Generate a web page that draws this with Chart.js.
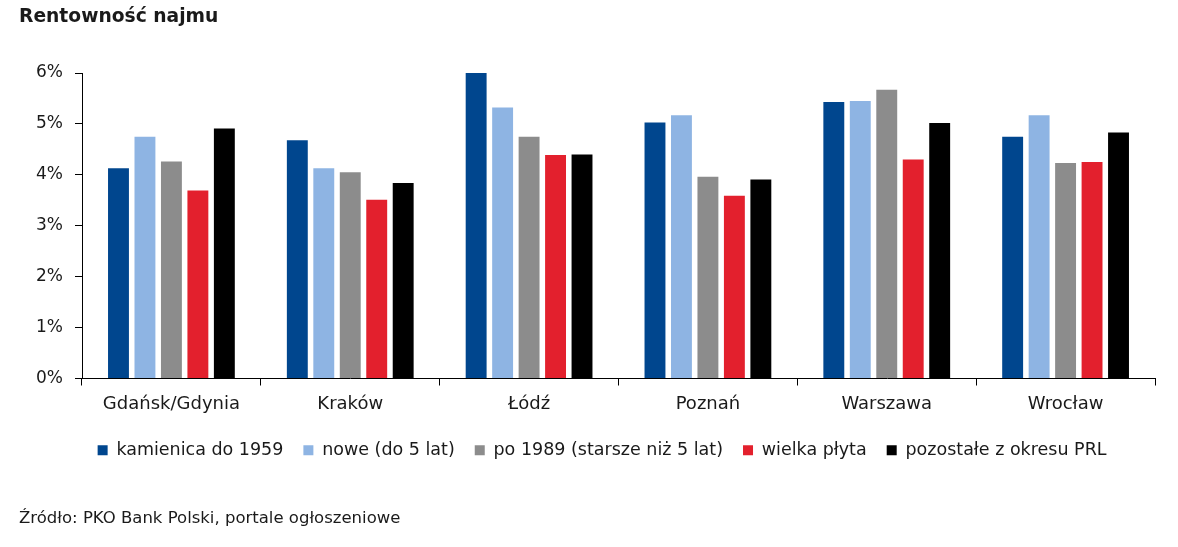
<!DOCTYPE html>
<html lang="pl">
<head>
  <meta charset="UTF-8" />
  <title>Rentowność najmu</title>
  <script src="https://cdn.jsdelivr.net/npm/chart.js"></script>
  <style>
    html, body {
      margin: 0;
      padding: 0;
      background: #ffffff;
      font-family: "DejaVu Sans", sans-serif;
      color: #1a1a1a;
    }
    .page {
      position: relative;
      width: 1178px;
      height: 547px;
      overflow: hidden;
    }
    .title {
      position: absolute;
      left: 19px;
      top: 5px;
      font-size: 18.7px;
      font-weight: bold;
    }
    .source {
      position: absolute;
      left: 19px;
      top: 508px;
      font-size: 16.5px;
    }
    .chart-box {
      position: absolute;
      left: 0;
      top: 0;
      width: 1178px;
      height: 547px;
    }
  </style>
</head>
<body>
  <div class="page">
    <div class="chart-box"><canvas id="rentChart"></canvas></div>
    <div class="title">Rentowność najmu</div>
    <div class="source">Źródło: PKO Bank Polski, portale ogłoszeniowe</div>
  </div>

  <script>
    const cities = ["Gdańsk/Gdynia", "Kraków", "Łódź", "Poznań", "Warszawa", "Wrocław"];
    const seriesNames = [
      "kamienica do 1959",
      "nowe (do 5 lat)",
      "po 1989 (starsze niż 5 lat)",
      "wielka płyta",
      "pozostałe z okresu PRL"
    ];
    const kamienica = [4.13, 4.68, 6.00, 5.03, 5.43, 4.75];
    const nowe = [4.75, 4.13, 5.32, 5.17, 5.45, 5.17];
    const po1989 = [4.26, 4.05, 4.75, 3.96, 5.67, 4.23];
    const wielkaPlyta = [3.69, 3.51, 4.39, 3.59, 4.30, 4.25];
    const pozostalePRL = [4.91, 3.84, 4.40, 3.91, 5.02, 4.83];
    const yTicks = [0, 1, 2, 3, 4, 5, 6];

    const colors = ["#00468e", "#8eb4e3", "#8c8c8c", "#e3202d", "#000000"];
    const values = [kamienica, nowe, po1989, wielkaPlyta, pozostalePRL];

    const datasets = seriesNames.map((name, i) => ({
      label: name,
      data: values[i],
      backgroundColor: colors[i],
      borderWidth: 0,
      categoryPercentage: 0.74,
      barPercentage: 0.79
    }));

    // legend in the original sits centred under the plot, not under the whole canvas
    const legendShift = {
      id: "legendShift",
      afterLayout(chart) {
        chart.legend.left += chart.chartArea.left * 0.6;
      }
    };

    const ctx = document.getElementById("rentChart").getContext("2d");
    new Chart(ctx, {
      type: "bar",
      data: { labels: cities, datasets },
      plugins: [legendShift],
      options: {
        responsive: true,
        maintainAspectRatio: false,
        animation: false,
        layout: {
          padding: { left: 0, right: 23, top: 73, bottom: 78 }
        },
        plugins: {
          legend: {
            display: true,
            position: "bottom",
            labels: {
              boxWidth: 10,
              boxHeight: 10,
              padding: 20,
              color: "#1a1a1a",
              font: { family: "DejaVu Sans", size: 17.5 }
            }
          },
          tooltip: { enabled: false }
        },
        scales: {
          x: {
            afterFit: scale => { scale.height = 43; },
            grid: {
              offset: true,
              drawOnChartArea: false,
              tickLength: 7,
              color: "#000000"
            },
            border: { color: "#000000", width: 1 },
            ticks: {
              padding: 8,
              color: "#1a1a1a",
              font: { family: "DejaVu Sans", size: 18 }
            }
          },
          y: {
            min: 0,
            max: 6,
            afterFit: scale => { scale.width = 82; },
            afterBuildTicks: scale => {
              scale.ticks = yTicks.map(v => ({ value: v }));
            },
            grid: {
              drawOnChartArea: false,
              tickLength: 7,
              color: "#000000"
            },
            border: { color: "#000000", width: 1 },
            ticks: {
              padding: 12,
              color: "#1a1a1a",
              font: { family: "DejaVu Sans", size: 17 },
              callback: v => v + "%"
            }
          }
        }
      }
    });
  </script>
</body>
</html>
